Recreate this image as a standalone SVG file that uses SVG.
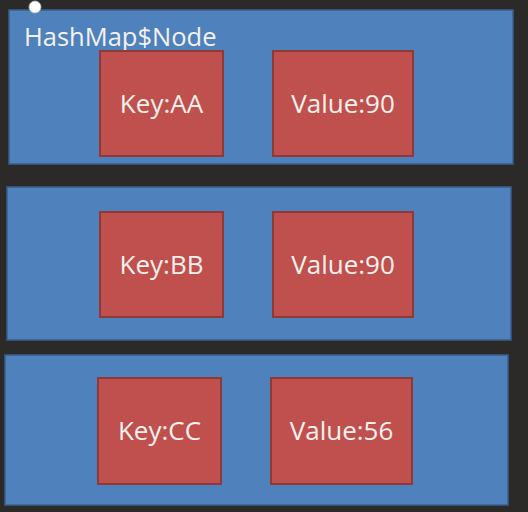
<svg xmlns="http://www.w3.org/2000/svg" width="528" height="512" viewBox="0 0 528 512">
<style>
.bg{fill:#2b2a29}
.node{fill:#4f81bd;stroke:#3a5f8c;stroke-width:1.5}
.field{fill:#c0504d;stroke:#8e3a37;stroke-width:2}
.lbl{font-family:"Open Sans","Liberation Sans",sans-serif;font-size:26px;fill:#f4f1ee;text-anchor:middle}
.title{font-family:"Open Sans","Liberation Sans",sans-serif;font-size:25.5px;fill:#f4f1ee}
</style>
<rect class="bg" x="0" y="0" width="528" height="512"/>
<g id="connectors"></g>
<g id="node1">
<rect class="node" x="9" y="10" width="504" height="154"/>
<text class="title" x="24" y="46">HashMap$Node</text>
<g id="key1"><rect class="field" x="100" y="51" width="123" height="105"/><text class="lbl" x="161.5" y="113">Key:AA</text></g>
<g id="val1"><rect class="field" x="273" y="51" width="140" height="105"/><text class="lbl" x="343" y="113">Value:90</text></g>
</g>
<g id="node2">
<rect class="node" x="7" y="187" width="504" height="153"/>
<g id="key2"><rect class="field" x="100" y="212" width="123" height="105"/><text class="lbl" x="161.5" y="274">Key:BB</text></g>
<g id="val2"><rect class="field" x="273" y="212" width="140" height="105"/><text class="lbl" x="343" y="274">Value:90</text></g>
</g>
<g id="node3">
<rect class="node" x="5" y="355" width="503" height="150"/>
<g id="key3"><rect class="field" x="98" y="378" width="123" height="106"/><text class="lbl" x="159.5" y="440">Key:CC</text></g>
<g id="val3"><rect class="field" x="271" y="378" width="141" height="106"/><text class="lbl" x="341.5" y="440">Value:56</text></g>
</g>
<circle id="dot" cx="35" cy="7" r="6" fill="#ffffff" stroke="#bbbbbb" stroke-width="0.8"/>
</svg>
